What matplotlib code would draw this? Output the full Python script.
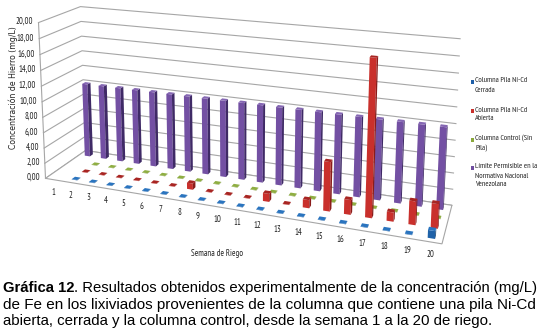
"""Grafica 12: barras 3D de Fe en lixiviados, en perspectiva tipo Excel."""

import matplotlib
matplotlib.use("Agg")
import matplotlib.pyplot as plt
import numpy as np
from matplotlib.patches import Polygon

weeks = list(range(1, 21))
y_ticks = [0, 2, 4, 6, 8, 10, 12, 14, 16, 18, 20]

# la semana 1 solo tiene barra de limite
cerrada = [np.nan, 0.05, 0.05, 0.05, 0.05, 0.05, 0.05, 0.05, 0.05, 0.05,
           0.05, 0.05, 0.05, 0.05, 0.05, 0.05, 0.05, 0.05, 0.05, 0.9]
abierta = [np.nan, 0.05, 0.05, 0.05, 0.05, 0.05, 0.05, 0.8, 0.05, 0.05,
           0.05, 1.0, 0.05, 1.0, 6.0, 1.8, 18.7, 1.1, 2.8, 2.9]
control = [np.nan] + [0.05] * 19
limite = [10.0] * 20

series = [
    (limite, "#7350a3", "#3f2a66", "#8567b3"),
    (control, "#7f9c3a", "#566b26", "#8fae42"),
    (abierta, "#c9302c", "#8a1c1a", "#a82522"),
    (cerrada, "#1f62a8", "#14426f", "#2a74bf"),
]

legend_rows = [
    ("Columna Pila Ni-Cd\nCerrada", "#1f5fa8", 82),
    ("Columna Pila Ni-Cd\nAbierta", "#c9302c", 111),
    ("Columna Control (Sin\nPila)", "#8aa83c", 140),
    ("Límite Permisible en la\nNormativa Nacional\nVenezolana", "#6f4d9f", 168),
]

caption_rest = ". Resultados obtenidos experimentalmente de la concentración (mg/L)"
caption_2 = "de Fe en los lixiviados provenientes de la columna que contiene una pila Ni-Cd"
caption_3 = "abierta, cerrada y la columna control, desde la semana 1 a la 20 de riego."

# caja del grafico: (x, fondo, valor) -> pixel
CUBE = [
    ((0, 0, 0), (46, 177)), ((1, 0, 0), (442, 245)),
    ((1, 1, 0), (452, 204)), ((0, 1, 0), (85, 152)),
    ((0, 0, 1), (38, 23)), ((0, 1, 1), (81, 6)), ((1, 1, 1), (460, 39)),
]
GRAY = "#a6a6a6"
FONT = ["PT Sans Narrow", "Roboto Condensed", "Liberation Sans", "DejaVu Sans"]
CAPTION_FONT = ["Liberation Sans", "DejaVu Sans"]


def fit_camera(pairs):
    rows, rhs = [], []
    for (x, d, v), (u, w) in pairs:
        rows.append([x, d, v, 1, 0, 0, 0, 0, -u * x, -u * d, -u * v])
        rhs.append(u)
        rows.append([0, 0, 0, 0, x, d, v, 1, -w * x, -w * d, -w * v])
        rhs.append(w)
    p = np.linalg.lstsq(np.array(rows, float), np.array(rhs, float), rcond=None)[0]
    return np.append(p, 1).reshape(3, 4)


CAM = fit_camera(CUBE)


def proj(x, d, value):
    h = CAM @ np.array([x, d, value / 20, 1.0])
    return h[0] / h[2], h[1] / h[2]


def draw_bar(ax, x, d, value, colors, zorder):
    front, side, top = colors
    hx, hd = 0.008, 0.04
    a = proj(x - hx, d - hd, 0)
    b = proj(x + hx, d - hd, 0)
    c = proj(x + hx, d + hd, 0)
    a2 = proj(x - hx, d - hd, value)
    b2 = proj(x + hx, d - hd, value)
    c2 = proj(x + hx, d + hd, value)
    e2 = proj(x - hx, d + hd, value)
    ax.add_patch(Polygon([a, b, b2, a2], fc=front, ec="none", zorder=zorder))
    ax.add_patch(Polygon([b, c, c2, b2], fc=side, ec="none", zorder=zorder))
    ax.add_patch(Polygon([a2, b2, c2, e2], fc=top, ec="none", zorder=zorder))


def main():
    fig = plt.figure(figsize=(5.41, 3.33), dpi=100)
    ax = fig.add_axes([0, 0, 1, 1])
    ax.set_xlim(0, 541)
    ax.set_ylim(333, 0)
    ax.axis("off")

    for v in y_ticks:
        p0, p1, p2 = proj(0, 0, v), proj(0, 1, v), proj(1, 1, v)
        ax.plot([p0[0], p1[0], p2[0]], [p0[1], p1[1], p2[1]], color=GRAY, lw=0.8, zorder=1)
        ax.text(p0[0] - 5, p0[1] - 1, f"{v:.2f}".replace(".", ","), ha="right", va="center",
                fontsize=6.2, family=FONT, color="#222222")
    p0, p1 = proj(0, 0, 0), proj(0, 0, 20)
    ax.plot([p0[0], p1[0]], [p0[1], p1[1]], color=GRAY, lw=0.8, zorder=1)

    floor = [proj(0, 0, 0), proj(1, 0, 0), proj(1, 1, 0), proj(0, 1, 0)]
    ax.add_patch(Polygon(floor, fc="white", ec=GRAY, lw=0.8, zorder=1.5))

    for s, (values, front, side, top) in enumerate(series):
        d = 1 - (s + 0.5) / 4
        for i, value in enumerate(values):
            if np.isnan(value):
                continue
            draw_bar(ax, (i + 0.5) / 20, d, value, (front, side, top), 2 + s + i / 100)

    for i, week in enumerate(weeks):
        px, py = proj((i + 0.5) / 20, 0, 0)
        ax.text(px, py + 12.5, str(week), ha="center", va="center",
                fontsize=6.2, family=FONT, color="#222222")

    ax.text(13, 88, "Concentración de Hierro (mg/L)", rotation=90, ha="center", va="center",
            fontsize=5.6, color="#222222", family=["DejaVu Sans"])
    ax.text(217, 253, "Semana de Riego", ha="center", va="center",
            fontsize=6.2, family=FONT, color="#222222")

    for label, color, y in legend_rows:
        ax.add_patch(Polygon([(471, y - 2), (473.5, y - 2), (473.5, y + 2), (471, y + 2)],
                             fc=color, ec="none"))
        ax.text(475, y - 4.5, label, ha="left", va="top", fontsize=5.7, family=FONT,
                color="#222222", linespacing=1.4)

    cap = dict(family=CAPTION_FONT, color="black", va="baseline", ha="left")
    t = ax.text(3, 292, "Gráfica 12", fontweight="bold", fontsize=10.7, **cap)
    fig.canvas.draw()
    end = ax.transData.inverted().transform((t.get_window_extent().x1, 0))[0]
    ax.text(end, 292, caption_rest, fontsize=10.7, **cap)
    ax.text(3, 308.5, caption_2, fontsize=11, **cap)
    ax.text(3, 325, caption_3, fontsize=10.85, **cap)

    fig.savefig("out.png", dpi=100)
    plt.close(fig)


if __name__ == "__main__":
    main()
